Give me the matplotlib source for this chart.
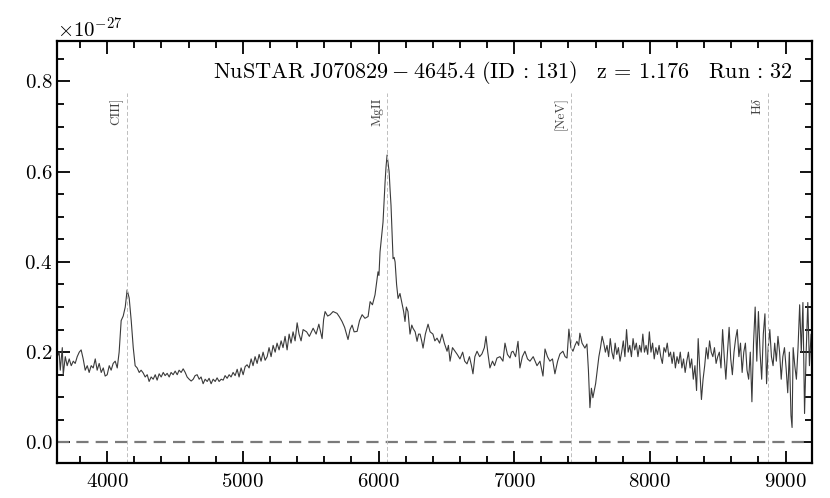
import numpy as np
import matplotlib
matplotlib.use("Agg")
import matplotlib.pyplot as plt
from matplotlib.ticker import MultipleLocator

plt.rcParams['font.family'] = ['cmr10', 'DejaVu Serif']
plt.rcParams['mathtext.fontset'] = 'cm'
plt.rcParams['axes.formatter.use_mathtext'] = True
plt.rcParams['axes.unicode_minus'] = True

# spectrum (wavelength in Angstrom, flux in 1e-27 units)
# blue part, up to the [NeV] region
wave_blue = [3632, 3646, 3654, 3669, 3676, 3691, 3705, 3720, 3735, 3750, 3764, 3779, 3794, 3808, 3823,
             3838, 3853, 3867, 3882, 3897, 3912, 3926, 3941, 3956, 3971, 3985, 4000, 4015, 4029, 4044,
             4059, 4074, 4088, 4103, 4118, 4133, 4147, 4162, 4177, 4192, 4206, 4221, 4236, 4250, 4265,
             4280, 4295, 4309, 4324, 4339, 4354, 4368, 4383, 4398, 4413, 4427, 4442, 4457, 4471, 4486,
             4501, 4516, 4530, 4545, 4560, 4575, 4589, 4604, 4619, 4634, 4648, 4663, 4678, 4692, 4707,
             4722, 4737, 4751, 4766, 4781, 4796, 4810, 4825, 4840, 4855, 4869, 4884, 4899, 4913, 4928,
             4943, 4958, 4972, 4987, 5002, 5017, 5031, 5046, 5061, 5075, 5090, 5105, 5120, 5134, 5149,
             5164, 5179, 5193, 5208, 5223, 5238, 5252, 5267, 5282, 5296, 5311, 5326, 5341, 5355, 5370,
             5385, 5400, 5414, 5429, 5444, 5470, 5490, 5518, 5540, 5560, 5584, 5595, 5606, 5625, 5643,
             5665, 5694, 5712, 5731, 5750, 5775, 5790, 5805, 5820, 5842, 5860, 5879, 5900, 5923, 5938,
             5955, 5974, 5989, 5996, 6003, 6011, 6022, 6033, 6048, 6055, 6063, 6070, 6078, 6085, 6092,
             6100, 6107, 6115, 6122, 6133, 6144, 6158, 6173, 6185, 6195, 6205, 6217, 6232, 6245, 6254,
             6270, 6284, 6295, 6306, 6318, 6328, 6345, 6365, 6380, 6401, 6415, 6431, 6450, 6468, 6485,
             6505, 6515, 6527, 6545, 6564, 6580, 6600, 6620, 6635, 6652, 6670, 6685, 6696, 6710, 6726,
             6745, 6762, 6780, 6792, 6805, 6821, 6840, 6855, 6873, 6895, 6917, 6932, 6950, 6969, 6980,
             6991, 7010, 7028, 7042, 7060, 7079, 7098, 7116, 7140, 7168, 7190, 7212, 7227, 7245, 7263,
             7282, 7300, 7320, 7337, 7359, 7375, 7389, 7403, 7418, 7433, 7448, 7462, 7475, 7484, 7500,
             7521, 7536, 7547, 7558, 7569, 7580, 7590]
flux_blue = [0.19, 0.20, 0.16, 0.21, 0.15, 0.19, 0.17, 0.185, 0.17, 0.18, 0.175, 0.19, 0.20, 0.205, 0.185,
             0.16, 0.17, 0.155, 0.17, 0.165, 0.185, 0.16, 0.175, 0.155, 0.165, 0.147, 0.15, 0.17, 0.16, 0.175,
             0.18, 0.165, 0.20, 0.27, 0.28, 0.30, 0.338, 0.32, 0.27, 0.21, 0.17, 0.165, 0.155, 0.16, 0.154,
             0.145, 0.15, 0.135, 0.145, 0.14, 0.15, 0.138, 0.152, 0.145, 0.155, 0.148, 0.153, 0.145, 0.155, 0.15,
             0.158, 0.15, 0.16, 0.155, 0.163, 0.155, 0.145, 0.14, 0.136, 0.14, 0.148, 0.15, 0.14, 0.145, 0.13,
             0.14, 0.135, 0.142, 0.13, 0.14, 0.135, 0.143, 0.135, 0.14, 0.138, 0.148, 0.142, 0.15, 0.145, 0.155,
             0.148, 0.162, 0.145, 0.165, 0.15, 0.168, 0.172, 0.165, 0.185, 0.17, 0.19, 0.175, 0.195, 0.18, 0.20,
             0.182, 0.19, 0.21, 0.19, 0.215, 0.20, 0.22, 0.205, 0.225, 0.21, 0.235, 0.205, 0.24, 0.22, 0.245,
             0.225, 0.265, 0.24, 0.225, 0.25, 0.245, 0.235, 0.253, 0.24, 0.262, 0.23, 0.272, 0.29, 0.28, 0.283,
             0.29, 0.286, 0.278, 0.268, 0.255, 0.228, 0.25, 0.26, 0.245, 0.246, 0.27, 0.283, 0.275, 0.279, 0.312,
             0.305, 0.327, 0.363, 0.378, 0.37, 0.422, 0.455, 0.488, 0.576, 0.61, 0.637, 0.62, 0.60, 0.56, 0.525,
             0.46, 0.407, 0.41, 0.40, 0.35, 0.319, 0.33, 0.308, 0.29, 0.268, 0.30, 0.29, 0.24, 0.26, 0.253,
             0.245, 0.224, 0.24, 0.24, 0.225, 0.209, 0.24, 0.262, 0.245, 0.24, 0.225, 0.231, 0.22, 0.24, 0.22,
             0.202, 0.215, 0.18, 0.21, 0.202, 0.195, 0.185, 0.20, 0.18, 0.174, 0.19, 0.17, 0.152, 0.19, 0.202,
             0.19, 0.196, 0.21, 0.235, 0.20, 0.165, 0.18, 0.17, 0.187, 0.19, 0.18, 0.22, 0.195, 0.187, 0.20,
             0.202, 0.19, 0.224, 0.165, 0.19, 0.202, 0.185, 0.18, 0.19, 0.17, 0.18, 0.147, 0.207, 0.19, 0.18,
             0.185, 0.152, 0.18, 0.196, 0.202, 0.19, 0.187, 0.251, 0.21, 0.202, 0.215, 0.224, 0.215, 0.242, 0.22,
             0.209, 0.218, 0.16, 0.077, 0.12, 0.099, 0.115]

# red part, noisier
wave_red = [7600, 7612, 7624, 7636, 7648, 7660, 7672, 7684, 7696, 7708, 7720, 7732, 7744, 7756, 7768,
            7780, 7792, 7804, 7816, 7828, 7840, 7852, 7864, 7876, 7888, 7900, 7912, 7924, 7936, 7948,
            7960, 7972, 7984, 7996, 8008, 8020, 8032, 8044, 8056, 8068, 8080, 8092, 8104, 8116, 8128,
            8140, 8152, 8164, 8176, 8188, 8200, 8212, 8224, 8236, 8248, 8260, 8272, 8284, 8296, 8308,
            8320, 8332, 8344, 8356, 8368, 8380, 8392, 8404, 8416, 8428, 8440, 8452, 8464, 8476, 8488,
            8500, 8512, 8524, 8536, 8548, 8560, 8572, 8584, 8596, 8608, 8620, 8632, 8644, 8656, 8668,
            8680, 8692, 8704, 8716, 8728, 8740, 8752, 8764, 8776, 8788, 8800, 8812, 8824, 8836, 8848,
            8860, 8872, 8884, 8896, 8908, 8920, 8932, 8944, 8956, 8968, 8980, 8992, 9004, 9016, 9028,
            9040, 9048, 9056, 9068, 9080, 9092, 9104, 9116, 9128, 9140, 9152, 9164, 9176, 9188, 9196]
flux_red = [0.13, 0.16, 0.19, 0.21, 0.235, 0.22, 0.20, 0.215, 0.19, 0.23, 0.20, 0.185, 0.22, 0.195, 0.21,
            0.18, 0.20, 0.225, 0.19, 0.25, 0.20, 0.215, 0.19, 0.23, 0.205, 0.22, 0.19, 0.215, 0.20, 0.24,
            0.20, 0.215, 0.195, 0.245, 0.20, 0.22, 0.185, 0.21, 0.195, 0.215, 0.19, 0.175, 0.21, 0.20, 0.22,
            0.19, 0.20, 0.175, 0.20, 0.165, 0.19, 0.175, 0.20, 0.165, 0.185, 0.155, 0.18, 0.20, 0.165, 0.185,
            0.14, 0.17, 0.115, 0.23, 0.16, 0.095, 0.14, 0.17, 0.21, 0.185, 0.225, 0.20, 0.19, 0.21, 0.175,
            0.19, 0.20, 0.165, 0.25, 0.19, 0.14, 0.20, 0.255, 0.185, 0.15, 0.20, 0.23, 0.25, 0.19, 0.22,
            0.155, 0.20, 0.22, 0.16, 0.14, 0.20, 0.09, 0.22, 0.30, 0.18, 0.29, 0.20, 0.14, 0.24, 0.285,
            0.13, 0.21, 0.25, 0.19, 0.17, 0.22, 0.18, 0.235, 0.20, 0.14, 0.19, 0.21, 0.165, 0.11, 0.20,
            0.06, 0.033, 0.21, 0.17, 0.14, 0.21, 0.305, 0.20, 0.31, 0.064, 0.20, 0.31, 0.17, 0.24, 0.20]

line_names = ['CIII]', 'MgII', '[NeV]', r'$\mathrm{H\delta}$']
line_waves = [4147, 6065, 7420, 8870]

title = (r'$\mathrm{NuSTAR\ J070829 - 4645.4\ (ID\,:\,131)\quad z\,=\,1.176'
         r'\quad Run\,:\,32}$')

wave = np.array(wave_blue + wave_red)
flux = np.array(flux_blue + flux_red) * 1e-27

fig = plt.figure(figsize=(8.3, 4.98), dpi=100)
ax = fig.add_axes([0.069, 0.07, 0.909, 0.848])

ax.plot(wave, flux, color='#3a3a3a', lw=0.8)
ax.axhline(0, color='#7a7a7a', lw=1.6, dashes=[5.5, 3.2])

ax.set_xlim(3632, 9193)
ax.set_ylim(-0.046e-27, 0.89e-27)

for name, lam in zip(line_names, line_waves):
    ax.vlines(lam, -0.046e-27, 0.775e-27, color='#bdbdbd', lw=0.7, linestyles=(0, (4, 2.5)))
    ax.annotate(name, xy=(lam, 0.765e-27), xytext=(-3, 0), textcoords='offset points',
                rotation=90, ha='right', va='top', fontsize=9.5, color='#444444')

ax.text(0.975, 0.925, title, transform=ax.transAxes, ha='right', va='center', fontsize=16)

ax.xaxis.set_major_locator(MultipleLocator(1000))
ax.xaxis.set_minor_locator(MultipleLocator(200))
ax.yaxis.set_major_locator(MultipleLocator(0.2e-27))
ax.yaxis.set_minor_locator(MultipleLocator(0.05e-27))
ax.ticklabel_format(axis='y', style='sci', scilimits=(-27, -27), useMathText=True)
ax.tick_params(which='both', direction='in', top=True, right=True, labelsize=15, width=1.3)
ax.tick_params(which='major', length=9)
ax.tick_params(which='minor', length=5)
ax.tick_params(axis='x', pad=7)
ax.yaxis.get_offset_text().set_fontsize(15)
for s in ax.spines.values():
    s.set_linewidth(1.6)

fig.savefig('out.png', dpi=100)
